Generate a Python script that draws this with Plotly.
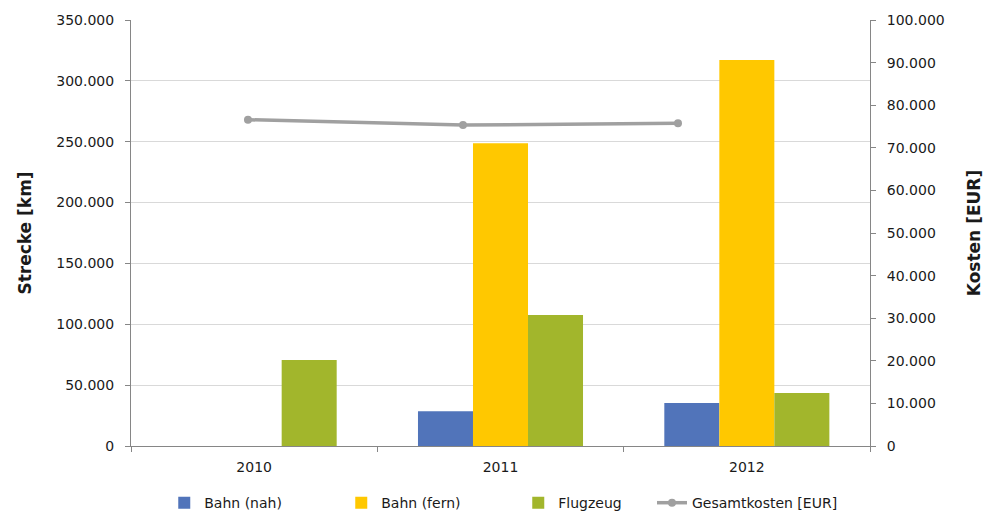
import plotly.graph_objects as go

years = ["2010", "2011", "2012"]
bahn_nah = [0, 28500, 35300]
bahn_fern = [0, 248700, 317100]
flugzeug = [70650, 107600, 43500]
gesamtkosten = [76600, 75350, 75750]

left_ticks = [0, 50000, 100000, 150000, 200000, 250000, 300000, 350000]
left_labels = ["0", "50.000", "100.000", "150.000", "200.000", "250.000", "300.000", "350.000"]
right_ticks = list(range(0, 100001, 10000))
right_labels = ["0"] + [f"{v//1000}.000" for v in right_ticks[1:]]

font = dict(family="DejaVu Sans", size=14, color="#1a1a1a")

fig = go.Figure()
fig.add_bar(x=years, y=bahn_nah, name="Bahn (nah)", marker=dict(color="#5174BA", line=dict(width=0)))
fig.add_bar(x=years, y=bahn_fern, name="Bahn (fern)", marker=dict(color="#FFC800", line=dict(width=0)))
fig.add_bar(x=years, y=flugzeug, name="Flugzeug", marker=dict(color="#A2B62C", line=dict(width=0)))
fig.add_scatter(x=years, y=gesamtkosten, name="Gesamtkosten [EUR]", mode="lines+markers",
                xaxis="x2", yaxis="y2", legend="legend2",
                line=dict(color="#A0A0A0", width=3.5), marker=dict(color="#A0A0A0", size=8))

legend_common = dict(orientation="h", xanchor="left", yref="container", y=0.025, yanchor="middle",
                     font=dict(family="DejaVu Sans", size=14), itemwidth=30, traceorder="normal",
                     bgcolor="rgba(0,0,0,0)")

fig.update_layout(
    width=984, height=516,
    margin=dict(l=131, r=114, t=20, b=70),
    paper_bgcolor="white", plot_bgcolor="white",
    font=font,
    barmode="group", bargap=0.33, bargroupgap=0,
    showlegend=True,
    legend=dict(x=0.045, entrywidth=132, entrywidthmode="pixels", **legend_common),
    legend2=dict(x=0.705, **legend_common),
    xaxis=dict(type="category", showline=True, linecolor="#868686", linewidth=1,
               ticks="outside", tickson="boundaries", ticklen=5, tickcolor="#868686",
               showgrid=False, range=[-0.5, 2.5], ticklabelstandoff=8, automargin=False),
    xaxis2=dict(type="category", overlaying="x", range=[-0.544, 2.893], visible=False),
    yaxis=dict(range=[0, 350000], tickvals=left_ticks, ticktext=left_labels,
               showline=True, linecolor="#868686", linewidth=1, ticks="outside", ticklen=5,
               tickcolor="#868686", showgrid=True, gridcolor="#D9D9D9", gridwidth=1,
               zeroline=False, ticklabelstandoff=8, automargin=False,
               title=dict(text="<b>Strecke [km]</b>", standoff=20)),
    yaxis2=dict(range=[0, 100000], tickvals=right_ticks, ticktext=right_labels,
                overlaying="y", side="right", showline=True, linecolor="#868686", linewidth=1,
                ticks="outside", ticklen=5, tickcolor="#868686", showgrid=False, zeroline=False,
                ticklabelstandoff=8, automargin=False,
                title=dict(text="<b>Kosten [EUR]</b>", standoff=25)),
)

fig.write_html("out.html")
